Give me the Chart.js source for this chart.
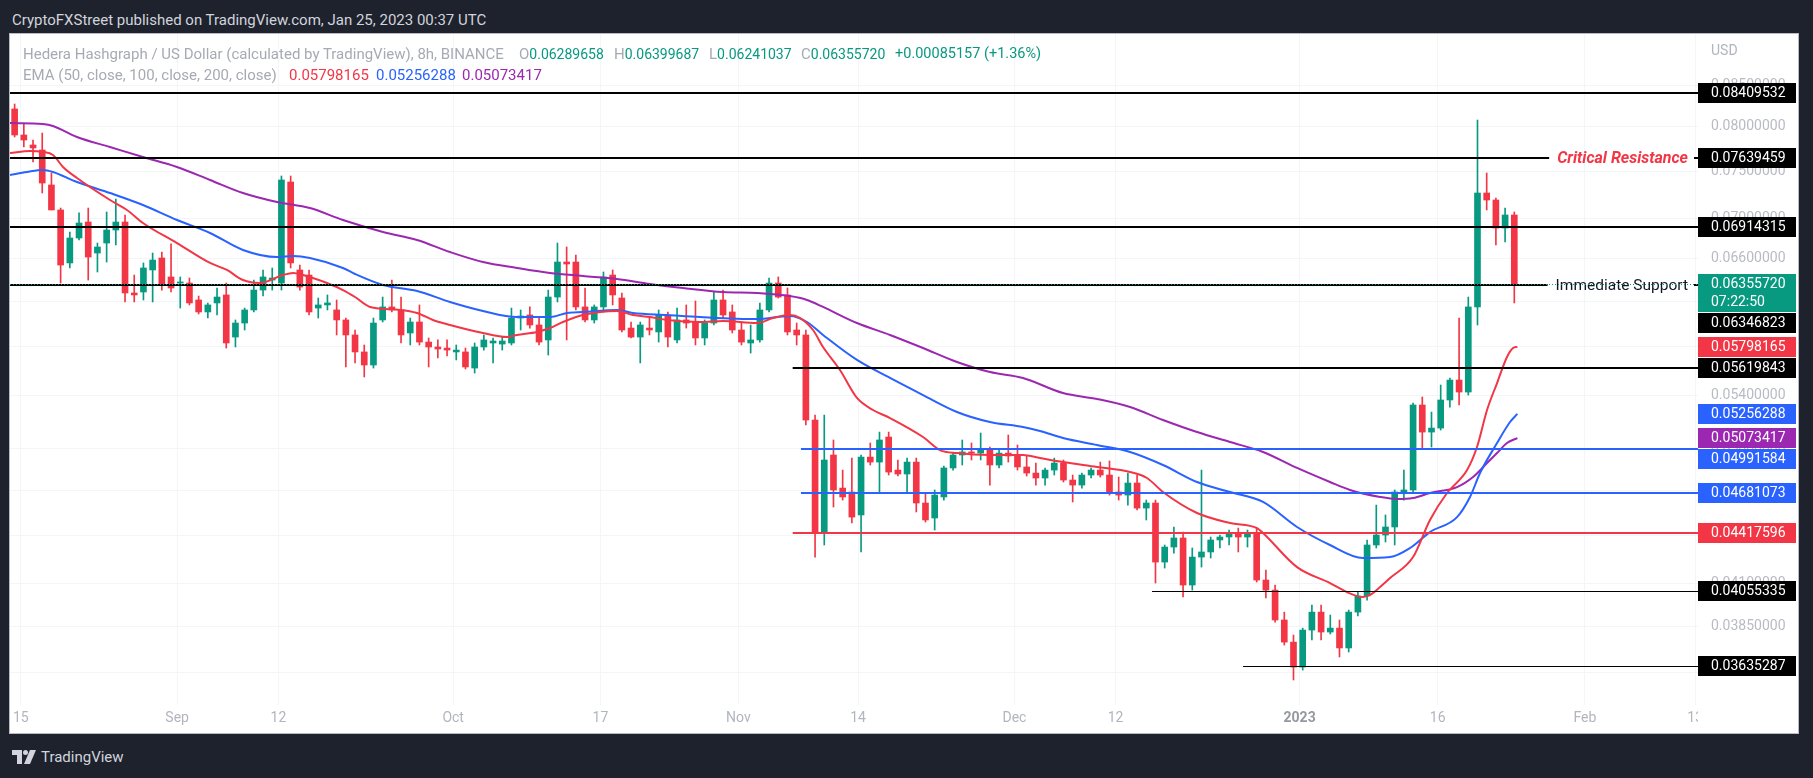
<!DOCTYPE html>
<html lang="en">
<head>
<meta charset="UTF-8">
<title>Hedera Hashgraph / US Dollar, 8h</title>
<script src="https://cdn.jsdelivr.net/npm/chart.js@4.4.0/dist/chart.umd.min.js"></script>
<style>
  body { margin: 0; width: 1813px; height: 778px; overflow: hidden; background: #1e222d; font-family: Roboto, "Liberation Sans", sans-serif; }
  .hdr { position: absolute; left: 12px; top: 11px; color: #d1d4dc; font-size: 15px; line-height: 18px; }
  .panel { position: absolute; left: 10px; top: 34px; width: 1788px; height: 699px; background: #fff; box-shadow: 0 0 0 1px #b8bbc3; }
  .panel canvas { position: absolute; left: 0; top: 0; }
  .lg { position: absolute; font-size: 15px; line-height: 16px; color: #a7aab3; white-space: nowrap; }
  .g { color: #089981; font-size: 14px; }
  .chg { color: #089981; font-size: 14.5px; }
  .foot { position: absolute; left: 12px; top: 748px; color: #d1d4dc; font-size: 15px; line-height: 18px; display: flex; align-items: center; gap: 5px; }
</style>
</head>
<body>
<div class="hdr">CryptoFXStreet published on TradingView.com, Jan 25, 2023 00:37 UTC</div>
<div class="panel"><canvas id="chart" width="1788" height="699"></canvas></div>

<div class="lg" style="left:23px;top:46px">Hedera Hashgraph / US Dollar (calculated by TradingView), 8h, BINANCE</div>
<div class="lg" style="left:519px;top:46px">O<span class="g">0.06289658</span></div>
<div class="lg" style="left:614px;top:46px">H<span class="g">0.06399687</span></div>
<div class="lg" style="left:709px;top:46px">L<span class="g">0.06241037</span></div>
<div class="lg" style="left:801px;top:46px">C<span class="g">0.06355720</span></div>
<div class="lg chg" style="left:895px;top:46px">+0.00085157 (+1.36%)</div>
<div class="lg" style="left:23px;top:67px">EMA (50, close, 100, close, 200, close)</div>
<div class="lg" style="left:289px;top:67px;color:#f23645">0.05798165</div>
<div class="lg" style="left:376px;top:67px;color:#2962ff">0.05256288</div>
<div class="lg" style="left:462px;top:67px;color:#9c27b0">0.05073417</div>

<div class="foot">
  <svg width="24" height="14" viewBox="0 0 24 14"><path d="M0 0h10v14H5V5H0z" fill="#d1d4dc"/><circle cx="13.5" cy="2.5" r="2.5" fill="#d1d4dc"/><path d="M18 0h6l-6 14h-6z" fill="#d1d4dc"/></svg>
  <span>TradingView</span>
</div>

<script>
// day 0 = 15 Aug 2022, one daily candle per day from 14 Aug 2022 (day -1) to 24 Jan 2023 (day 162)
const firstDay = -1;

const opens = [
  .08214,.07907,.07792,.07735,.07349,.07085,.06556,.06800,.06961,.06652,
  .06750,.06880,.06961,.06274,.06283,.06489,.06604,.06423,.06366,.06366,
  .06210,.06102,.06183,.06256,.05882,.06004,.06120,.06301,.06394,.06366,
  .07381,.06489,.06441,.06137,.06165,.06120,.06031,.05900,.05755,.05646,
  .06031,.06147,.06120,.05917,.06013,.05839,.05797,.05788,.05755,.05755,
  .05621,.05797,.05831,.05822,.05831,.06048,.06075,.05987,.05857,.06237,
  .06565,.06565,.06147,.06031,.06147,.06441,.06228,.05960,.05882,.05960,
  .05926,.06075,.05857,.06031,.06013,.05874,.06004,.06210,.06102,.05943,
  .05831,.05857,.06120,.06366,.06256,.05943,.05900,.05209,.04415,.04949,
  .04715,.04688,.04533,.04934,.04898,.05081,.04841,.04813,.04898,.04613,
  .04513,.04654,.04856,.04949,.04971,.04963,.04985,.04877,.04963,.04942,
  .04863,.04820,.04785,.04841,.04891,.04771,.04736,.04806,.04841,.04806,
  .04688,.04667,.04750,.04579,.04613,.04231,.04325,.04383,.04091,.04262,
  .04294,.04370,.04389,.04415,.04389,.04415,.04121,.04061,.03887,.03763,
  .03628,.03830,.03932,.03819,.03841,.03731,.03932,.04026,.04338,.04402,
  .04454,.04688,.04702,.05325,.05118,.05148,.05364,.05523,.05427,.06147,
  .07263,.07189,.06900,.07033
];
const highs = [
  .08274,.08047,.07849,.07930,.07479,.07105,.06860,.07054,.07105,.06750,
  .07064,.07200,.07033,.06441,.06556,.06652,.06662,.06741,.06423,.06413,
  .06246,.06183,.06320,.06366,.06031,.06137,.06394,.06489,.06508,.07446,
  .07446,.06536,.06489,.06228,.06256,.06210,.06048,.05943,.05814,.06048,
  .06237,.06394,.06237,.06048,.06165,.05874,.05857,.05857,.05814,.05788,
  .05831,.05900,.05874,.05882,.06137,.06120,.06147,.06048,.06301,.06750,
  .06711,.06633,.06320,.06165,.06470,.06489,.06274,.06013,.06013,.06048,
  .06120,.06102,.06137,.06165,.06201,.06031,.06283,.06301,.06165,.06004,
  .05987,.06183,.06413,.06423,.06320,.06004,.05943,.05247,.05247,.05059,
  .04841,.04927,.04949,.05037,.05118,.05118,.04913,.04927,.04927,.04681,
  .04702,.04870,.04963,.05059,.05037,.05111,.05007,.04985,.05096,.05022,
  .04942,.04891,.04856,.04927,.04913,.04806,.04820,.04856,.04898,.04906,
  .04792,.04820,.04806,.04633,.04633,.04338,.04454,.04421,.04319,.04841,
  .04389,.04402,.04434,.04447,.04434,.04447,.04182,.04091,.03932,.03802,
  .03841,.03973,.03973,.03915,.03887,.03944,.04049,.04370,.04599,.04533,
  .04702,.04841,.05340,.05388,.05270,.05483,.05540,.06048,.06237,.08082,
  .07479,.07210,.07105,.07064
];
const lows = [
  .07884,.07769,.07600,.07263,.07085,.06366,.06508,.06780,.06394,.06470,
  .06565,.06731,.06192,.06192,.06210,.06192,.06301,.06283,.06137,.06165,
  .06084,.06048,.06075,.05788,.05797,.05943,.06102,.06246,.06301,.06301,
  .06508,.06301,.06075,.06048,.06120,.05900,.05630,.05663,.05548,.05621,
  .06013,.06102,.05831,.05814,.05814,.05630,.05704,.05721,.05688,.05613,
  .05580,.05771,.05663,.05771,.05814,.05943,.05960,.05814,.05729,.06192,
  .05857,.06120,.06013,.06004,.06102,.06165,.05926,.05874,.05663,.05900,
  .05839,.05797,.05831,.05960,.05814,.05814,.05987,.06048,.05917,.05814,
  .05746,.05839,.06102,.06228,.05900,.05814,.05171,.04262,.04338,.04586,
  .04633,.04480,.04294,.04877,.04681,.04806,.04799,.04688,.04553,.04486,
  .04434,.04633,.04841,.04877,.04913,.04913,.04736,.04856,.04898,.04841,
  .04799,.04736,.04736,.04806,.04757,.04620,.04715,.04785,.04792,.04667,
  .04633,.04599,.04566,.04500,.04103,.04194,.04287,.04020,.04061,.04200,
  .04256,.04319,.04338,.04294,.04325,.04109,.04014,.03875,.03747,.03560,
  .03612,.03775,.03775,.03808,.03682,.03709,.03910,.04002,.04319,.04357,
  .04338,.04633,.04688,.05000,.05007,.05133,.05309,.05325,.05403,.05987,
  .07085,.06731,.06760,.06183
];
const closes = [
  .07907,.07849,.07758,.07370,.07085,.06536,.06800,.06951,.06613,.06711,
  .06880,.06961,.06274,.06256,.06508,.06584,.06348,.06320,.06376,.06183,
  .06102,.06165,.06237,.05831,.06004,.06120,.06301,.06423,.06413,.07403,
  .06556,.06329,.06102,.06165,.06183,.06031,.05900,.05755,.05646,.06004,
  .06147,.06120,.05900,.06013,.05839,.05797,.05780,.05771,.05771,.05630,
  .05797,.05857,.05848,.05848,.06048,.06066,.05987,.05839,.06237,.06565,
  .06546,.06147,.06031,.06147,.06423,.06256,.05943,.05882,.05987,.05943,
  .06075,.05882,.06031,.06004,.05874,.06004,.06210,.06075,.05943,.05839,
  .05857,.06120,.06366,.06237,.05926,.05900,.05209,.04415,.04913,.04702,
  .04654,.04519,.04934,.04898,.05059,.04827,.04813,.04898,.04613,.04500,
  .04667,.04856,.04949,.04971,.04963,.04985,.04877,.04963,.04942,.04863,
  .04820,.04785,.04841,.04891,.04771,.04736,.04806,.04841,.04806,.04688,
  .04667,.04750,.04579,.04613,.04231,.04325,.04383,.04091,.04262,.04294,
  .04370,.04389,.04415,.04389,.04415,.04121,.04061,.03887,.03763,.03628,
  .03830,.03932,.03819,.03841,.03731,.03932,.04026,.04338,.04402,.04454,
  .04688,.04702,.05325,.05118,.05148,.05364,.05523,.05427,.06147,.07263,
  .07189,.06900,.07033,.0635572
];

// EMA readings: [day, value]
const ema50 = [
  [-1.17,.07701],[1.0,.07724],[2.41,.07713],[3.5,.07679],[4.59,.07545],[6.11,.07424],[9.7,.07189],
  [11.54,.07085],[13.28,.06951],[16.98,.06750],[20.57,.06556],[22.41,.06489],[24.15,.06394],
  [26.0,.06366],[28.5,.06441],[29.59,.06460],[30.67,.06441],[33.28,.06366],[35.02,.06301],
  [36.33,.06237],[37.96,.06147],[41.22,.06120],[43.07,.06093],[44.8,.06031],[46.65,.05987],
  [50.24,.05917],[52.85,.05882],[53.93,.05900],[56.11,.05926],[57.52,.05960],[58.93,.06013],
  [61.11,.06075],[64.8,.06111],[66.54,.06075],[68.39,.06057],[70.24,.06031],[73.83,.06013],
  [76.33,.06022],[80.02,.06004],[81.76,.06048],[83.59,.06075],[84.72,.06048],[86.11,.05943],
  [87.2,.05797],[89.04,.05605],[90.89,.05380],[92.63,.05286],[94.48,.05224],[98.07,.05081],
  [99.91,.04985],[101.76,.04963],[105.35,.04949],[108.93,.04949],[110.78,.04927],[113.28,.04898],
  [116.98,.04863],[120.57,.04827],[122.41,.04785],[124.15,.04688],[127.85,.04546],[131.43,.04480],
  [134.37,.04447],[135.02,.04415],[138.72,.04200],[142.3,.04103],[144.15,.04049],[145.89,.04020],
  [146.65,.04032],[147.74,.04079],[148.83,.04133],[151.33,.04262],[153.17,.04500],[155.02,.04681],
  [157.2,.04841],[158.28,.05007],[159.37,.05286],[160.46,.05499],[161.54,.05713],[162.2,.05788],
  [162.67,.05798]
];
const ema100 = [
  [-1.17,.07457],[0.67,.07490],[2.41,.07512],[3.5,.07490],[6.11,.07381],[9.7,.07263],[13.28,.07137],
  [16.98,.06982],[20.57,.06850],[24.15,.06682],[27.85,.06613],[29.59,.06623],[31.43,.06604],
  [35.02,.06508],[36.33,.06451],[39.37,.06348],[43.07,.06292],[46.65,.06192],[50.24,.06111],
  [53.93,.06057],[57.52,.06057],[59.37,.06093],[61.11,.06102],[64.8,.06120],[66.54,.06093],
  [70.24,.06075],[73.83,.06057],[80.02,.06039],[83.59,.06066],[85.46,.06013],[87.2,.05900],
  [90.89,.05688],[94.48,.05540],[98.07,.05403],[101.76,.05271],[105.35,.05194],[108.93,.05156],
  [110.78,.05126],[113.28,.05074],[116.98,.05022],[120.57,.04971],[124.15,.04877],[127.85,.04757],
  [131.43,.04688],[135.02,.04620],[138.72,.04454],[142.3,.04338],[145.89,.04256],[148.83,.04262],
  [151.0,.04319],[153.17,.04421],[156.11,.04519],[157.52,.04654],[158.61,.04820],[160.46,.05037],
  [161.87,.05194],[162.67,.05256]
];
const ema200 = [
  [-1.17,.08047],[2.41,.08035],[3.5,.08012],[6.11,.07884],[9.7,.07769],[13.28,.07656],[16.98,.07545],
  [20.57,.07403],[24.15,.07263],[27.85,.07168],[31.43,.07105],[35.02,.06982],[39.37,.06860],
  [43.07,.06780],[46.65,.06662],[50.24,.06565],[53.93,.06508],[57.52,.06460],[61.11,.06432],
  [64.8,.06404],[68.39,.06357],[71.98,.06320],[76.33,.06283],[80.02,.06274],[83.59,.06246],
  [85.46,.06210],[87.2,.06147],[90.89,.06004],[94.48,.05900],[98.07,.05788],[101.76,.05671],
  [105.35,.05588],[108.93,.05540],[113.28,.05419],[116.98,.05372],[120.57,.05309],[124.15,.05209],
  [127.85,.05118],[131.43,.05044],[135.02,.04971],[138.72,.04856],[142.3,.04757],[144.48,.04702],
  [147.74,.04654],[149.59,.04640],[151.33,.04647],[153.17,.04681],[156.11,.04722],[157.85,.04792],
  [159.37,.04891],[160.46,.04963],[161.54,.05037],[162.67,.05073]
];

// horizontal levels drawn on the chart
const levelValues = [0.08409532, 0.07639459, 0.06914315, 0.06346823, 0.05619843, 0.04991584, 0.04681073, 0.04417596, 0.04055335, 0.03635287];
const levelFrom   = [null, null, null, null, 83.9, 84.8, 84.8, 83.9, 122.96, 132.85];
const levelColors = ['#000', '#000', '#000', '#000', '#000', '#2962ff', '#2962ff', '#f23645', '#000', '#000'];
const levelWidths = [2, 2, 2, 2, 2, 2, 2, 2, 1, 1];
const levelNotes  = { 1: { text: 'Critical Resistance', color: '#f23645', font: 'italic bold 16px Roboto' },
                      3: { text: 'Immediate Support', color: '#131722', font: '15.5px Roboto' } };
const lastPrice = 0.0635572;

// price-axis labels
const markValues = [0.08409532, 0.07639459, 0.06914315, 0.0635572, 0.06346823, 0.05798165, 0.05619843, 0.05256288, 0.05073417, 0.04991584, 0.04681073, 0.04417596, 0.04055335, 0.03635287];
const markColors = ['#000', '#000', '#000', '#089981', '#000', '#f23645', '#000', '#2962ff', '#9c27b0', '#2962ff', '#2962ff', '#f23645', '#000', '#000'];
const markSub = { 3: '07:22:50' };

const yTicks = [0.085, 0.08, 0.075, 0.07, 0.066, 0.062, 0.058, 0.054, 0.05, 0.047, 0.044, 0.041, 0.0385, 0.036];
const xTickDays = [0, 17, 28, 47, 63, 78, 91, 108, 119, 139, 154, 170, 182];
const xTickLabels = ['15', 'Sep', '12', 'Oct', '17', 'Nov', '14', 'Dec', '12', '2023', '16', 'Feb', '13'];

const UP = '#089981', DOWN = '#f23645';
const candleX = i => firstDay + i + 1 / 3;
const candleColor = c => closes[c.dataIndex] >= opens[c.dataIndex] ? UP : DOWN;

const overlay = {
  id: 'overlay',
  afterDatasetsDraw(chart) {
    const { ctx, chartArea: a, scales: { x, y } } = chart;
    ctx.save();
    ctx.beginPath();
    ctx.rect(a.left, a.top, a.right - a.left, a.bottom - a.top);
    ctx.clip();
    levelValues.forEach((v, i) => {
      const py = Math.round(y.getPixelForValue(v)) + (levelWidths[i] === 1 ? 0.5 : 0);
      const x0 = levelFrom[i] === null ? a.left : x.getPixelForValue(levelFrom[i]);
      ctx.strokeStyle = levelColors[i];
      ctx.lineWidth = levelWidths[i];
      ctx.beginPath();
      const note = levelNotes[i];
      if (note) {
        ctx.font = note.font;
        const w = ctx.measureText(note.text).width;
        const tx1 = a.right - 10, tx0 = tx1 - w;
        ctx.moveTo(x0, py); ctx.lineTo(tx0 - 8, py);
        ctx.moveTo(tx1 + 6, py); ctx.lineTo(a.right, py);
        ctx.stroke();
        ctx.fillStyle = note.color;
        ctx.textAlign = 'left';
        ctx.textBaseline = 'middle';
        ctx.fillText(note.text, tx0, py + 1);
      } else {
        ctx.moveTo(x0, py); ctx.lineTo(a.right, py);
        ctx.stroke();
      }
    });
    // last price line
    const lp = Math.round(y.getPixelForValue(lastPrice)) + 0.5;
    ctx.setLineDash([1, 2]);
    ctx.strokeStyle = UP;
    ctx.lineWidth = 1;
    ctx.beginPath(); ctx.moveTo(a.left, lp); ctx.lineTo(a.right, lp); ctx.stroke();
    ctx.restore();
  },
  afterDraw(chart) {
    const { ctx, chartArea: a, scales: { y } } = chart;
    ctx.save();
    ctx.fillStyle = '#fff';
    ctx.fillRect(a.right, a.bottom, chart.width - a.right, chart.height - a.bottom);
    ctx.font = '14px Roboto';
    ctx.textAlign = 'left';
    ctx.textBaseline = 'middle';
    ctx.fillStyle = '#b2b5be';
    ctx.fillText('USD', a.right + 13, 17);
    let prevBottom = -Infinity;
    markValues.forEach((v, i) => {
      const h = markSub[i] ? 38 : 20;
      let top = Math.round(y.getPixelForValue(v)) - 10;
      if (top < prevBottom + 1) top = prevBottom + 1;
      prevBottom = top + h;
      ctx.fillStyle = markColors[i];
      ctx.fillRect(a.right, top, 98, h);
      ctx.fillStyle = '#fff';
      ctx.fillText(v.toFixed(8), a.right + 13, top + 10.5);
      if (markSub[i]) ctx.fillText(markSub[i], a.right + 13, top + 28.5);
    });
    ctx.restore();
  }
};

Chart.defaults.font.family = 'Roboto';

new Chart(document.getElementById('chart'), {
  type: 'bar',
  data: {
    datasets: [
      { type: 'line', label: 'EMA 50', data: ema50.map(p => ({ x: p[0], y: p[1] })), borderColor: '#f23645', borderWidth: 2, pointRadius: 0, cubicInterpolationMode: 'monotone', order: 1 },
      { type: 'line', label: 'EMA 100', data: ema100.map(p => ({ x: p[0], y: p[1] })), borderColor: '#2962ff', borderWidth: 2, pointRadius: 0, cubicInterpolationMode: 'monotone', order: 1 },
      { type: 'line', label: 'EMA 200', data: ema200.map(p => ({ x: p[0], y: p[1] })), borderColor: '#9c27b0', borderWidth: 2, pointRadius: 0, cubicInterpolationMode: 'monotone', order: 1 },
      { label: 'wicks', data: lows.map((l, i) => ({ x: candleX(i), y: [l, highs[i]] })), backgroundColor: candleColor, barThickness: 1, grouped: false, order: 3 },
      { label: 'bodies', data: opens.map((o, i) => ({ x: candleX(i), y: [o, closes[i]] })), backgroundColor: candleColor, barThickness: 6, grouped: false, minBarLength: 1, order: 2 }
    ]
  },
  options: {
    responsive: false,
    animation: false,
    devicePixelRatio: 1,
    layout: { padding: 0 },
    plugins: { legend: { display: false }, tooltip: { enabled: false } },
    scales: {
      x: {
        type: 'linear', position: 'bottom', min: -1.17, max: 182.3, offset: false, bounds: 'data',
        afterBuildTicks: s => { s.ticks = xTickDays.map(v => ({ value: v })); },
        afterFit: s => { s.height = 28; s.paddingLeft = 0; s.paddingRight = 0; },
        ticks: {
          autoSkip: false, maxRotation: 0, padding: 5,
          color: c => (c.tick && c.tick.label === '2023') ? '#9598a1' : '#b2b5be',
          font: c => ({ family: 'Roboto', size: 14, weight: (c.tick && c.tick.label === '2023') ? 'bold' : 'normal' }),
          callback: (v, i) => xTickLabels[i]
        },
        grid: { color: '#f4f5f8', drawTicks: false, offset: false },
        border: { display: false }
      },
      y: {
        type: 'logarithmic', position: 'right', min: 0.03432, max: 0.09167, bounds: 'data',
        afterBuildTicks: s => { s.ticks = yTicks.map(v => ({ value: v })); },
        afterFit: s => { s.width = 100; s.paddingTop = 0; s.paddingBottom = 0; },
        ticks: { autoSkip: false, padding: 13, color: '#b8bbc3', font: { size: 14 }, callback: v => Number(v).toFixed(8) },
        grid: { color: '#f4f5f8', drawTicks: false },
        border: { display: false }
      }
    }
  },
  plugins: [overlay]
});
</script>
</body>
</html>
